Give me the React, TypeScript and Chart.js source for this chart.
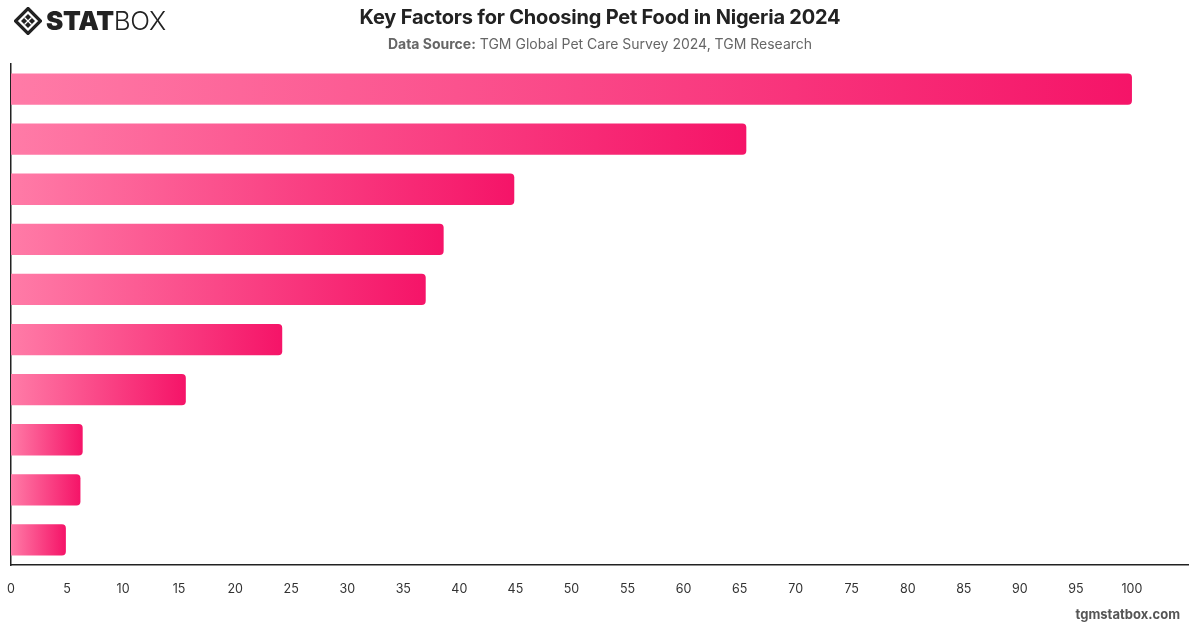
import React, { useEffect, useRef } from "react";
import { Chart, registerables } from "chart.js";

Chart.register(...registerables);

// Survey factors (category axis labels are hidden in the drawing)
const factors: string[] = [
  "Nutritional value",
  "Price",
  "Brand reputation",
  "Ingredients",
  "Vet recommendation",
  "Pet's preference",
  "Availability",
  "Packaging",
  "Promotions",
  "Other",
];

// Relative importance score per factor
const scores: number[] = [100, 65.6, 44.9, 38.6, 37.0, 24.2, 15.6, 6.4, 6.2, 4.9];

// Value-axis ticks
const tickStep = 5;
const axisMax = 105;
const lastLabel = 100;

const TITLE = "Key Factors for Choosing Pet Food in Nigeria 2024";
const SOURCE_LABEL = "Data Source:";
const SOURCE_TEXT = " TGM Global Pet Care Survey 2024, TGM Research";
const SITE = "tgmstatbox.com";

const FONT = "Inter, 'Noto Sans', 'DejaVu Sans', sans-serif";

function Logo() {
  return (
    <div style={{ position: "absolute", left: 14, top: 7, display: "flex", alignItems: "center" }}>
      <svg width="28" height="28" viewBox="0 0 28 28">
        <polygon points="14,1.5 26.5,14 14,26.5 1.5,14" fill="none" stroke="#222" strokeWidth="3.2" />
        <polygon points="14,7 21,14 14,21 7,14" fill="#222" />
        <line x1="10.5" y1="10.5" x2="17.5" y2="17.5" stroke="#fff" strokeWidth="1.2" />
        <line x1="17.5" y1="10.5" x2="10.5" y2="17.5" stroke="#fff" strokeWidth="1.2" />
      </svg>
      <span
        style={{
          fontFamily: FONT,
          fontSize: 26,
          lineHeight: "28px",
          color: "#222",
          marginLeft: 4,
          letterSpacing: -0.3,
        }}
      >
        <span style={{ fontWeight: 900 }}>STAT</span>
        <span style={{ fontWeight: 300 }}>BOX</span>
      </span>
    </div>
  );
}

export default function App() {
  const canvasRef = useRef<HTMLCanvasElement | null>(null);

  useEffect(() => {
    document.body.style.margin = "0";
    const canvas = canvasRef.current;
    if (!canvas) return;

    const chart = new Chart(canvas, {
      type: "bar",
      data: {
        labels: factors,
        datasets: [
          {
            data: scores,
            borderRadius: 4,
            borderSkipped: "start",
            categoryPercentage: 0.8,
            barPercentage: 0.78,
            backgroundColor: (ctx: any) => {
              const c = ctx.chart;
              const xs = c.scales?.x;
              const v = ctx.raw as number;
              if (!xs || typeof v !== "number") return "#f8407f";
              const x0 = xs.getPixelForValue(0);
              const x1 = xs.getPixelForValue(v);
              if (!isFinite(x0) || !isFinite(x1) || x1 - x0 < 1) return "#f8407f";
              const g = c.ctx.createLinearGradient(x0, 0, x1, 0);
              g.addColorStop(0, "#ff7ba7");
              g.addColorStop(1, "#f51468");
              return g;
            },
          },
        ],
      },
      options: {
        indexAxis: "y",
        responsive: false,
        animation: false,
        maintainAspectRatio: false,
        layout: { padding: { left: 0, right: 10, top: 64, bottom: 22 } },
        plugins: {
          legend: { display: false },
          tooltip: { enabled: false },
        },
        scales: {
          x: {
            min: 0,
            max: axisMax,
            grid: { display: false },
            border: { display: true, color: "#222", width: 1.5 },
            ticks: {
              stepSize: tickStep,
              padding: 9,
              color: "#333",
              font: { family: FONT, size: 12.5 },
              callback: (value: any) => (Number(value) <= lastLabel ? String(value) : ""),
            },
          },
          y: {
            grid: { display: false },
            border: { display: true, color: "#222", width: 1.5 },
            ticks: { display: false },
          },
        },
      },
    });

    return () => chart.destroy();
  }, []);

  return (
    <div style={{ position: "absolute", left: 0, top: 0, width: 1200, height: 628, background: "#fff", overflow: "hidden" }}>
      <canvas ref={canvasRef} width={1200} height={628} style={{ position: "absolute", left: -2, top: 0 }} />
      <Logo />
      <div
        style={{
          position: "absolute",
          left: 0,
          width: 1200,
          top: 5,
          textAlign: "center",
          fontFamily: FONT,
          fontWeight: 700,
          fontSize: 20,
          lineHeight: "24px",
          color: "#222",
          letterSpacing: -0.2,
        }}
      >
        {TITLE}
      </div>
      <div
        style={{
          position: "absolute",
          left: 0,
          width: 1200,
          top: 35,
          textAlign: "center",
          fontFamily: FONT,
          fontSize: 14,
          lineHeight: "18px",
          color: "#666",
        }}
      >
        <span style={{ fontWeight: 700 }}>{SOURCE_LABEL}</span>
        {SOURCE_TEXT}
      </div>
      <div
        style={{
          position: "absolute",
          right: 20,
          top: 606,
          fontFamily: FONT,
          fontWeight: 700,
          fontSize: 13,
          lineHeight: "17px",
          color: "#555",
        }}
      >
        {SITE}
      </div>
    </div>
  );
}
